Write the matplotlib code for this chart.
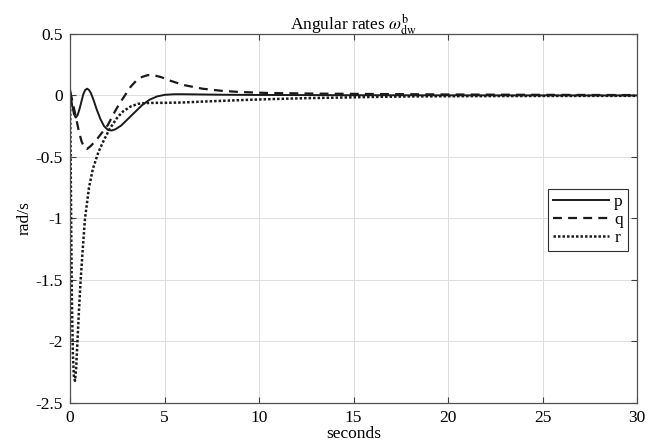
"""Angular rates omega^b_dw: p, q, r responses over 30 s."""

import matplotlib
matplotlib.use("Agg")
import matplotlib.pyplot as plt

# ── data ──
t_p = [0, 0.05, 0.1, 0.2, 0.3, 0.4, 0.5, 0.6, 0.7, 0.8, 0.9, 1.0, 1.1,
       1.25, 1.4, 1.6, 1.8, 2.0, 2.2, 2.4, 2.7, 3.0, 3.4, 3.8, 4.2, 4.6,
       5.0, 5.5, 6.0, 7, 8, 10, 15, 20, 30]
p = [0.05, 0.0, -0.07, -0.15, -0.18, -0.16, -0.11, -0.05, 0.01, 0.045,
     0.055, 0.045, 0.02, -0.04, -0.11, -0.19, -0.25, -0.28, -0.285, -0.275,
     -0.245, -0.2, -0.14, -0.08, -0.035, -0.008, 0.005, 0.01, 0.01, 0.008,
     0.006, 0.004, 0.002, 0.001, 0.0]

t_q = [0, 0.1, 0.2, 0.3, 0.45, 0.6, 0.75, 0.9, 1.1, 1.4, 1.7, 2.0, 2.3,
       2.6, 2.9, 3.2, 3.5, 3.8, 4.1, 4.4, 4.8, 5.3, 6.0, 7.0, 8.0, 9.0,
       10.5, 13, 16, 20, 25, 30]
q = [0.03, -0.03, -0.1, -0.17, -0.28, -0.37, -0.425, -0.435, -0.41, -0.36,
     -0.3, -0.24, -0.15, -0.07, 0.0, 0.07, 0.12, 0.15, 0.165, 0.165, 0.15,
     0.12, 0.085, 0.055, 0.038, 0.028, 0.02, 0.015, 0.012, 0.008, 0.005,
     0.003]

t_r = [0, 0.03, 0.06, 0.1, 0.15, 0.2, 0.26, 0.32, 0.39, 0.47, 0.56, 0.67,
       0.79, 1.0, 1.2, 1.5, 1.8, 2.1, 2.5, 2.8, 3.2, 3.6, 4.0, 4.5, 5, 6, 7,
       8, 9.5, 11, 12.5, 14, 16, 18, 20, 25, 30]
r = [0.0, -0.5, -1.1, -1.7, -2.1, -2.28, -2.32, -2.22, -2.0, -1.75, -1.5,
     -1.25, -1.0, -0.75, -0.6, -0.46, -0.36, -0.27, -0.18, -0.13, -0.09,
     -0.068, -0.062, -0.06, -0.06, -0.057, -0.05, -0.044, -0.035, -0.028,
     -0.022, -0.018, -0.012, -0.008, -0.006, -0.004, -0.003]

x_ticks = [0, 5, 10, 15, 20, 25, 30]
y_ticks = [0.5, 0, -0.5, -1, -1.5, -2, -2.5]
y_tick_labels = ["0.5", "0", "-0.5", "-1", "-1.5", "-2", "-2.5"]

plt.rcParams["font.family"] = ["Liberation Serif", "DejaVu Serif"]
plt.rcParams["mathtext.fontset"] = "stix"
plt.rcParams["font.size"] = 12.5

fig = plt.figure(figsize=(6.61, 4.44), dpi=100)
ax = fig.add_axes([0.106, 0.0925, 0.858, 0.831])

ax.plot(t_p, p, color="#1a1a1a", lw=1.4, label="p")
ax.plot(t_q, q, color="#1a1a1a", lw=1.6, ls=(0, (4, 2.8)), label="q")
ax.plot(t_r, r, color="#1a1a1a", lw=1.8, ls=(0, (1, 0.8)), label="r")

ax.set_xlim(0, 30)
ax.set_ylim(-2.5, 0.5)
ax.set_xticks(x_ticks)
ax.set_yticks(y_ticks)
ax.set_yticklabels(y_tick_labels)
ax.grid(True, color="#dcdcdc", lw=0.7)
ax.tick_params(direction="in", top=True, right=True, length=4,
               color="#404040", labelsize=12.5, pad=5)
for s in ax.spines.values():
    s.set_color("#505050")
    s.set_linewidth(0.9)

ax.set_title(r"Angular rates $\omega^{\mathrm{b}}_{\mathrm{dw}}$", fontsize=12.5,
             pad=3)
ax.set_xlabel("seconds", fontsize=12.5, labelpad=0)
ax.set_ylabel("rad/s", fontsize=12.5, labelpad=2)

leg = ax.legend(loc="upper right", bbox_to_anchor=(0.984, 0.58),
                borderaxespad=0, fancybox=False, framealpha=1,
                edgecolor="#303030", handlelength=3.2, handletextpad=0.3,
                borderpad=0.3, labelspacing=0.1, fontsize=12.5)
leg.get_frame().set_linewidth(0.8)

fig.savefig("out.png", dpi=100)
